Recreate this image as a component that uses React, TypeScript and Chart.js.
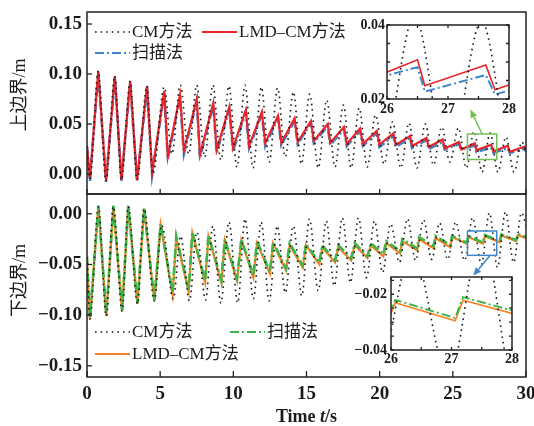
import React, { useEffect, useRef } from 'react';
import { Chart, registerables } from 'chart.js';

Chart.register(...registerables);

// ---------------- data ----------------
const seriesLabels = ['CM方法', 'LMD–CM方法', '扫描法'];

const xTicksMain = [0, 5, 10, 15, 20, 25, 30];
const yTicksTop = [0.0, 0.05, 0.1, 0.15];
const yTicksBottom = [-0.15, -0.1, -0.05, 0.0];
const xTicksInset = [26, 27, 28];
const xMinorInset = [26.5, 27.5];
const yTicksTopInset = [0.02, 0.04];
const yMinorTopInset = [0.025, 0.03, 0.035];
const yTicksBottomInset = [-0.04, -0.02];
const yMinorBottomInset = [-0.035, -0.03, -0.025, -0.015];

// top panel (上边界)
const topT = [0, 0.2, 0.77, 1.3, 1.9, 2.35, 2.95, 3.42, 4.1, 4.45,
  5.28, 5.52, 6.36, 6.62, 7.5, 7.72, 8.63, 8.86, 9.72, 9.98,
  10.85, 11.08, 11.95, 12.18, 13.05, 13.28, 14.18, 14.4, 15.3, 15.5,
  16.45, 16.62, 17.56, 17.75, 18.66, 18.85, 19.8, 19.98, 20.94, 21.1,
  22.07, 22.22, 23.2, 23.35, 24.3, 24.45, 25.42, 25.58, 26.5, 26.62,
  27.62, 27.77, 28.75, 28.9, 29.87, 30];
const topLmd = [0.028, -0.005, 0.103, -0.007, 0.098, -0.006, 0.093, -0.006, 0.088, 0.001,
  0.083, 0.017, 0.079, 0.023, 0.075, 0.019, 0.071, 0.024, 0.067, 0.026,
  0.064, 0.028, 0.062, 0.031, 0.058, 0.031, 0.0555, 0.032, 0.053, 0.033,
  0.050, 0.031, 0.047, 0.030, 0.0455, 0.030, 0.043, 0.0295, 0.0405, 0.029,
  0.038, 0.028, 0.036, 0.027, 0.0345, 0.0255, 0.032, 0.0245, 0.0306, 0.0236,
  0.0292, 0.0225, 0.0282, 0.0222, 0.0272, 0.024];
const topScan = [0.027, -0.007, 0.101, -0.008, 0.096, -0.007, 0.091, -0.007, 0.086, -0.001,
  0.081, 0.015, 0.077, 0.020, 0.073, 0.016, 0.069, 0.021, 0.065, 0.023,
  0.062, 0.026, 0.060, 0.028, 0.056, 0.029, 0.053, 0.030, 0.051, 0.031,
  0.048, 0.029, 0.045, 0.028, 0.043, 0.028, 0.041, 0.027, 0.038, 0.027,
  0.036, 0.026, 0.034, 0.025, 0.032, 0.0245, 0.030, 0.0245, 0.0286, 0.022,
  0.0265, 0.0212, 0.026, 0.021, 0.025, 0.0225];
const topCmT = [0, 0.2, 0.77, 1.3, 1.9, 2.35, 2.95, 3.42, 4.1, 4.5,
  5.28, 5.8, 6.38, 6.95, 7.5, 8.05, 8.6, 9.15, 9.7, 10.25,
  10.8, 11.35, 11.92, 12.45, 13.03, 13.55, 14.1, 14.65, 15.22, 15.8,
  16.38, 16.95, 17.52, 18.05, 18.6, 19.15, 19.72, 20.3, 20.88, 21.45,
  22.0, 22.55, 23.12, 23.68, 24.24, 24.8, 25.38, 25.92, 26.45, 27.0,
  27.55, 28.08, 28.63, 29.18, 29.72, 30];
const topCm = [0.028, -0.005, 0.103, -0.007, 0.098, -0.006, 0.093, -0.006, 0.088, 0.0,
  0.087, 0.020, 0.089, 0.020, 0.089, 0.017, 0.089, 0.014, 0.088, 0.007,
  0.089, 0.006, 0.087, 0.012, 0.086, 0.017, 0.082, 0.010, 0.080, 0.006,
  0.074, 0.007, 0.069, 0.006, 0.066, 0.007, 0.059, 0.010, 0.052, 0.006,
  0.051, 0.006, 0.050, 0.009, 0.047, 0.012, 0.046, 0.006, 0.0425, 0.002,
  0.041, 0.002, 0.037, 0.002, 0.032, 0.022];

// bottom panel (下边界)
const bottomT = [0, 0.2, 0.78, 1.32, 1.8, 2.4, 2.82, 3.45, 3.9, 4.6,
  5.03, 5.85, 6.1, 6.95, 7.2, 8.07, 8.3, 9.18, 9.42, 10.25,
  10.55, 11.37, 11.62, 12.5, 12.72, 13.6, 13.85, 14.74, 14.96, 15.88,
  16.08, 16.95, 17.17, 18.05, 18.3, 19.16, 19.4, 20.25, 20.45, 21.4,
  21.55, 22.55, 22.7, 23.68, 23.82, 24.82, 24.95, 25.95, 26.07, 27.06,
  27.19, 28.2, 28.32, 29.32, 29.45, 30];
const bottomLmd = [-0.043, -0.104, 0.007, -0.101, 0.007, -0.096, 0.007, -0.089, 0.005, -0.086,
  -0.011, -0.080, -0.024, -0.077, -0.019, -0.068, -0.022, -0.068, -0.026, -0.066,
  -0.026, -0.063, -0.029, -0.059, -0.029, -0.056, -0.031, -0.053, -0.031, -0.050,
  -0.033, -0.048, -0.033, -0.046, -0.031, -0.0435, -0.031, -0.042, -0.029, -0.039,
  -0.027, -0.036, -0.025, -0.034, -0.024, -0.033, -0.023, -0.0295, -0.023, -0.0295,
  -0.0221, -0.028, -0.0215, -0.027, -0.021, -0.024];
const bottomScan = [-0.042, -0.103, 0.008, -0.100, 0.008, -0.095, 0.008, -0.088, 0.006, -0.085,
  -0.010, -0.078, -0.022, -0.075, -0.018, -0.066, -0.021, -0.066, -0.025, -0.064,
  -0.025, -0.061, -0.027, -0.057, -0.028, -0.054, -0.029, -0.051, -0.030, -0.048,
  -0.031, -0.046, -0.031, -0.044, -0.029, -0.042, -0.029, -0.040, -0.027, -0.037,
  -0.025, -0.034, -0.023, -0.032, -0.022, -0.031, -0.022, -0.0285, -0.022, -0.0285,
  -0.021, -0.027, -0.0205, -0.026, -0.020, -0.023];
const bottomCmT = [0, 0.2, 0.78, 1.32, 1.8, 2.4, 2.82, 3.45, 3.9, 4.6,
  5.1, 5.9, 6.4, 7.0, 7.5, 8.1, 8.6, 9.15, 9.7, 10.3,
  10.8, 11.37, 11.9, 12.45, 13.0, 13.55, 14.1, 14.68, 15.2, 15.8,
  16.35, 16.9, 17.45, 18.0, 18.55, 19.1, 19.65, 20.2, 20.75, 21.35,
  21.9, 22.45, 23.0, 23.55, 24.1, 24.65, 25.2, 25.8, 26.35, 26.95,
  27.5, 28.05, 28.6, 29.15, 29.7, 30];
const bottomCm = [-0.043, -0.104, 0.007, -0.101, 0.007, -0.096, 0.007, -0.089, 0.005, -0.086,
  -0.011, -0.084, -0.022, -0.086, -0.018, -0.085, -0.012, -0.088, -0.008, -0.088,
  -0.005, -0.084, -0.008, -0.086, -0.012, -0.078, -0.012, -0.081, -0.005, -0.076,
  -0.007, -0.071, -0.004, -0.068, -0.004, -0.063, -0.007, -0.058, -0.010, -0.048,
  -0.005, -0.046, -0.006, -0.045, -0.009, -0.045, -0.008, -0.046, -0.004, -0.050,
  0.001, -0.053, 0.002, -0.048, 0.001, -0.012];

// zoom boxes [t0, t1, v0, v1] and arrows [fromT, fromV, toT, toV]
const topZoomBox = [26, 28, 0.0145, 0.04];
const topArrow = [27.0, 0.04, 26.2, 0.0645];
const bottomZoomBox = [26, 28, -0.041, -0.017];
const bottomArrow = [27.55, -0.041, 26.4, -0.061];

// ---------------- styling ----------------
const SERIF = "'Liberation Serif', 'Times New Roman', 'Noto Sans CJK SC', serif";
const INK = '#1a1a1a';
const RED = '#e8252b';
const BLUE = '#3b86cc';
const ORANGE = '#f58220';
const GREEN = '#3db54a';
const BOX_GREEN = '#72c052';
const BOX_BLUE = '#3f87c9';

function pts(xs: number[], ys: number[]) {
  return xs.map((x, i) => ({ x, y: ys[i] }));
}

function fmt(v: number) {
  const s = Math.abs(v).toFixed(2);
  return v < -1e-9 ? '\u2212' + s : s;
}

function makeDatasets(panel: 'top' | 'bottom', inset: boolean) {
  const k = inset ? 0.75 : 1;
  const dot = { borderColor: INK, borderWidth: 1.6, borderDash: [1.6, 4], tension: 0.4, cubicInterpolationMode: 'monotone', pointRadius: 0, order: 0 };
  if (panel === 'top') {
    return [
      { label: seriesLabels[0], data: pts(topCmT, topCm), ...dot },
      { label: seriesLabels[1], data: pts(topT, topLmd), borderColor: RED, borderWidth: 2.2 * k, borderDash: [], tension: 0, pointRadius: 0, order: 1 },
      { label: seriesLabels[2], data: pts(topT, topScan), borderColor: BLUE, borderWidth: 2.6 * k, borderDash: [9, 3, 2, 3], tension: 0, pointRadius: 0, order: 2 },
    ];
  }
  return [
    { label: seriesLabels[0], data: pts(bottomCmT, bottomCm), ...dot },
    { label: seriesLabels[1], data: pts(bottomT, bottomLmd), borderColor: ORANGE, borderWidth: 2.2 * k, borderDash: [], tension: 0, pointRadius: 0, order: 2 },
    { label: seriesLabels[2], data: pts(bottomT, bottomScan), borderColor: GREEN, borderWidth: 2.6 * k, borderDash: [9, 3, 2, 3], tension: 0, pointRadius: 0, order: 1 },
  ];
}

const decorPlugin = {
  id: 'decor',
  beforeDraw(chart: any, _a: any, o: any) {
    if (!o || !o.fill) return;
    const { ctx, chartArea: a } = chart;
    ctx.save();
    ctx.fillStyle = o.fill;
    ctx.fillRect(a.left, a.top, a.right - a.left, a.bottom - a.top);
    ctx.restore();
  },
  afterDraw(chart: any, _a: any, o: any) {
    if (!o) return;
    const { ctx, chartArea: a, scales } = chart;
    const xs = scales.x;
    const ys = scales.y;
    ctx.save();
    ctx.setLineDash([]);

    // zoom box + arrow
    if (o.box) {
      const [t0, t1, v0, v1] = o.box;
      const x0 = xs.getPixelForValue(t0), x1 = xs.getPixelForValue(t1);
      const y0 = ys.getPixelForValue(v1), y1 = ys.getPixelForValue(v0);
      ctx.strokeStyle = o.boxColor;
      ctx.lineWidth = 1.5;
      ctx.strokeRect(x0, y0, x1 - x0, y1 - y0);
      const [ft, fv, tt, tv] = o.arrow;
      const sx = xs.getPixelForValue(ft), sy = ys.getPixelForValue(fv);
      const ex = xs.getPixelForValue(tt), ey = ys.getPixelForValue(tv);
      const ang = Math.atan2(ey - sy, ex - sx);
      const hl = 8, hw = 3.5;
      const bx = ex - hl * Math.cos(ang), by = ey - hl * Math.sin(ang);
      ctx.beginPath();
      ctx.moveTo(sx, sy);
      ctx.lineTo(bx, by);
      ctx.stroke();
      ctx.fillStyle = o.boxColor;
      ctx.beginPath();
      ctx.moveTo(ex, ey);
      ctx.lineTo(bx + hw * Math.sin(ang), by - hw * Math.cos(ang));
      ctx.lineTo(bx - hw * Math.sin(ang), by + hw * Math.cos(ang));
      ctx.closePath();
      ctx.fill();
    }

    // frame
    ctx.strokeStyle = '#222';
    ctx.lineWidth = o.frameWidth || 1.5;
    ctx.strokeRect(a.left, a.top, a.right - a.left, a.bottom - a.top);

    // inward ticks
    ctx.lineWidth = 1.3;
    const xl = o.xTickLen || 5, yl = o.yTickLen || 5;
    (o.xTicks || []).forEach((v: number) => {
      const px = xs.getPixelForValue(v);
      ctx.beginPath();
      ctx.moveTo(px, a.bottom);
      ctx.lineTo(px, a.bottom - xl);
      if (o.mirror) {
        ctx.moveTo(px, a.top);
        ctx.lineTo(px, a.top + xl);
      }
      ctx.stroke();
    });
    (o.yTicks || []).forEach((v: number) => {
      const py = ys.getPixelForValue(v);
      ctx.beginPath();
      ctx.moveTo(a.left, py);
      ctx.lineTo(a.left + yl, py);
      if (o.mirror) {
        ctx.moveTo(a.right, py);
        ctx.lineTo(a.right - yl, py);
      }
      ctx.stroke();
    });

    // legend
    (o.legend || []).forEach((it: any) => {
      const ds = chart.data.datasets[it.ds];
      const lx = a.left + it.x, ly = a.top + it.y;
      ctx.strokeStyle = ds.borderColor;
      ctx.lineWidth = Math.min(ds.borderWidth, 2.2);
      ctx.setLineDash(ds.borderDash || []);
      ctx.beginPath();
      ctx.moveTo(lx, ly);
      ctx.lineTo(lx + 35, ly);
      ctx.stroke();
      ctx.setLineDash([]);
      ctx.fillStyle = INK;
      ctx.font = `17px ${SERIF}`;
      ctx.textAlign = 'left';
      ctx.textBaseline = 'middle';
      ctx.fillText(ds.label, lx + 37, ly + 1);
    });

    // y title
    if (o.yTitle) {
      ctx.save();
      ctx.translate(o.yTitle.x, (a.top + a.bottom) / 2 + o.yTitle.dy);
      ctx.rotate(-Math.PI / 2);
      ctx.fillStyle = INK;
      ctx.font = `18px ${SERIF}`;
      ctx.textAlign = 'center';
      ctx.textBaseline = 'middle';
      ctx.fillText(o.yTitle.text, 0, 0);
      ctx.restore();
    }

    // x title: Time t/s
    if (o.xTitle) {
      const parts = [
        { t: 'Time ', f: `bold 18px ${SERIF}` },
        { t: 't', f: `italic bold 18px ${SERIF}` },
        { t: '/s', f: `bold 18px ${SERIF}` },
      ];
      let total = 0;
      parts.forEach((p) => { ctx.font = p.f; total += ctx.measureText(p.t).width; });
      let x = (a.left + a.right) / 2 - total / 2;
      const y = a.bottom + o.xTitle.dy;
      ctx.fillStyle = INK;
      ctx.textAlign = 'left';
      ctx.textBaseline = 'alphabetic';
      parts.forEach((p) => { ctx.font = p.f; ctx.fillText(p.t, x, y); x += ctx.measureText(p.t).width; });
    }
    ctx.restore();
  },
};

function scaleX(min: number, max: number, ticks: number[], showLabels: boolean, height: number, size: number, pad: number) {
  return {
    type: 'linear',
    min,
    max,
    afterBuildTicks: (s: any) => { s.ticks = ticks.map((v) => ({ value: v })); },
    afterFit: (s: any) => { s.height = height; s.paddingLeft = 0; s.paddingRight = 0; },
    grid: { display: false, drawTicks: false },
    border: { display: false },
    ticks: {
      display: showLabels,
      autoSkip: false,
      maxRotation: 0,
      padding: pad,
      color: INK,
      font: { family: SERIF, size, weight: 'bold' },
      callback: (v: number) => String(v),
    },
  };
}

function scaleY(min: number, max: number, ticks: number[], width: number, size: number, pad: number) {
  return {
    type: 'linear',
    min,
    max,
    afterBuildTicks: (s: any) => { s.ticks = ticks.map((v) => ({ value: v })); },
    afterFit: (s: any) => { s.width = width; s.paddingTop = 0; s.paddingBottom = 0; },
    grid: { display: false, drawTicks: false },
    border: { display: false },
    ticks: {
      autoSkip: false,
      padding: pad,
      color: INK,
      font: { family: SERIF, size, weight: 'bold' },
      callback: (v: number) => fmt(v),
    },
  };
}

function baseOptions(padding: any, scales: any, decor: any) {
  return {
    responsive: false,
    animation: false,
    events: [],
    layout: { padding },
    plugins: { legend: { display: false }, tooltip: { enabled: false }, title: { display: false }, decor },
    scales,
  };
}

const configs: Record<string, () => any> = {
  topMain: () => ({
    type: 'line',
    data: { datasets: makeDatasets('top', false) },
    plugins: [decorPlugin],
    options: baseOptions(
      { top: 12, right: 8, left: 0, bottom: 0 },
      { x: scaleX(0, 30, xTicksMain, false, 6, 19, 6), y: scaleY(-0.02, 0.162, yTicksTop, 87, 19, 5) },
      {
        xTicks: xTicksMain, yTicks: yTicksTop, xTickLen: 5, yTickLen: 5,
        legend: [{ ds: 0, x: 8, y: 20 }, { ds: 1, x: 115, y: 20 }, { ds: 2, x: 8, y: 41 }],
        yTitle: { text: '上边界/m', x: 20, dy: -8 },
        box: topZoomBox, arrow: topArrow, boxColor: BOX_GREEN,
      },
    ),
  }),
  bottomMain: () => ({
    type: 'line',
    data: { datasets: makeDatasets('bottom', false) },
    plugins: [decorPlugin],
    options: baseOptions(
      { top: 8, right: 8, left: 0, bottom: 0 },
      { x: scaleX(0, 30, xTicksMain, true, 49, 19, 6), y: scaleY(-0.161, 0.0195, yTicksBottom, 87, 19, 5) },
      {
        xTicks: xTicksMain, yTicks: yTicksBottom, xTickLen: 6, yTickLen: 5,
        legend: [{ ds: 0, x: 8, y: 138 }, { ds: 2, x: 143, y: 138 }, { ds: 1, x: 8, y: 160 }],
        yTitle: { text: '下边界/m', x: 20, dy: -5 },
        xTitle: { dy: 45 },
        box: bottomZoomBox, arrow: bottomArrow, boxColor: BOX_BLUE,
      },
    ),
  }),
  topInset: () => ({
    type: 'line',
    data: { datasets: makeDatasets('top', true) },
    plugins: [decorPlugin],
    options: baseOptions(
      { top: 15, right: 16, left: 0, bottom: 0 },
      { x: scaleX(26, 28, xTicksInset, true, 21, 14, 2), y: scaleY(0.02, 0.04, yTicksTopInset, 47, 14, 2) },
      {
        fill: '#ffffff', mirror: true, frameWidth: 1.5,
        xTicks: [...xTicksInset, ...xMinorInset], yTicks: [...yTicksTopInset, ...yMinorTopInset],
        xTickLen: 3, yTickLen: 3,
      },
    ),
  }),
  bottomInset: () => ({
    type: 'line',
    data: { datasets: makeDatasets('bottom', true) },
    plugins: [decorPlugin],
    options: baseOptions(
      { top: 15, right: 18, left: 0, bottom: 0 },
      { x: scaleX(26, 28, xTicksInset, true, 27, 14, 1), y: scaleY(-0.04, -0.0138, yTicksBottomInset, 61, 14, 4) },
      {
        fill: '#ffffff', mirror: true, frameWidth: 1.5,
        xTicks: [...xTicksInset, ...xMinorInset], yTicks: [...yTicksBottomInset, ...yMinorBottomInset],
        xTickLen: 3, yTickLen: 3,
      },
    ),
  }),
};

function ChartCanvas(props: { name: string; left: number; top: number; w: number; h: number }) {
  const ref = useRef<HTMLCanvasElement>(null);
  useEffect(() => {
    const chart = new Chart(ref.current as HTMLCanvasElement, configs[props.name]());
    return () => chart.destroy();
  }, [props.name]);
  return (
    <canvas
      ref={ref}
      width={props.w}
      height={props.h}
      style={{ position: 'absolute', left: props.left, top: props.top, width: props.w, height: props.h }}
    />
  );
}

export default function App() {
  return (
    <div style={{ position: 'absolute', left: 0, top: 0, width: 534, height: 426, background: '#ffffff', overflow: 'hidden' }}>
      <ChartCanvas name="topMain" left={0} top={0} w={534} h={200} />
      <ChartCanvas name="bottomMain" left={0} top={186} w={534} h={240} />
      <ChartCanvas name="topInset" left={340} top={10} w={185} h={110} />
      <ChartCanvas name="bottomInset" left={330} top={262} w={200} h={115} />
    </div>
  );
}
